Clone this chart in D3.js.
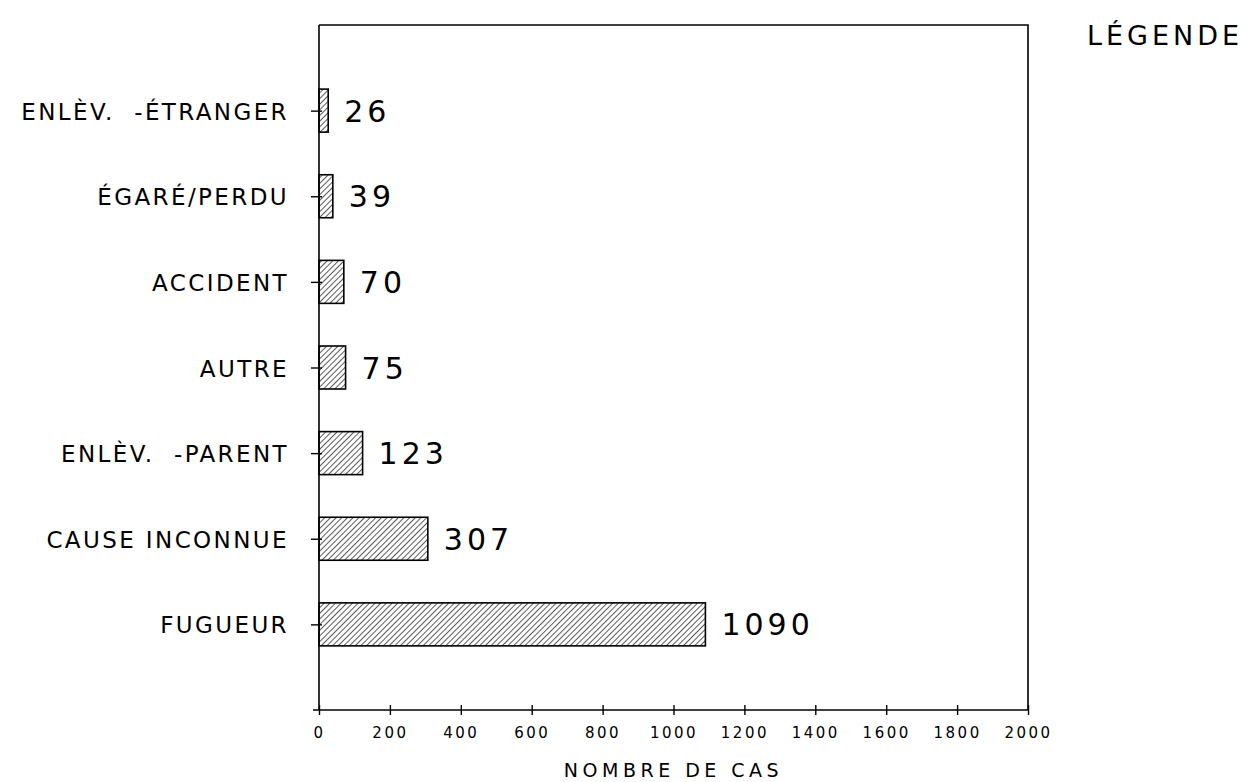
<!DOCTYPE html>
<html>
<head>
<meta charset="utf-8">
<script src="https://cdn.jsdelivr.net/npm/d3@7"></script>
<style>
  body { margin: 0; background: #fff; }
  text { font-family: "DejaVu Sans", sans-serif; fill: #000; white-space: pre; }
</style>
</head>
<body>
<div class="chart"></div>
<script>
// categories, top to bottom
var categories = ["ENLÈV.  -ÉTRANGER", "ÉGARÉ/PERDU", "ACCIDENT", "AUTRE", "ENLÈV.  -PARENT", "CAUSE INCONNUE", "FUGUEUR"];
var values = [26, 39, 70, 75, 123, 307, 1090];
var xTicks = [0, 200, 400, 600, 800, 1000, 1200, 1400, 1600, 1800, 2000];
var xTitle = "NOMBRE DE CAS";
var legendTitle = "LÉGENDE";

var width = 1251, height = 782;
var margin = { left: 319, top: 25, right: 223, bottom: 72 };
var plotW = width - margin.left - margin.right;
var plotH = height - margin.top - margin.bottom;

var svg = d3.select(".chart")
    .append("svg")
    .attr("width", width)
    .attr("height", height);

// hatch pattern for the bars
var defs = svg.append("defs");
defs.append("pattern")
    .attr("id", "hatch")
    .attr("patternUnits", "userSpaceOnUse")
    .attr("width", 4)
    .attr("height", 4)
    .attr("patternTransform", "rotate(45)")
    .append("line")
    .attr("x1", 0).attr("y1", 0)
    .attr("x2", 0).attr("y2", 4)
    .attr("stroke", "#000")
    .attr("stroke-width", 1.3);

var g = svg.append("g")
    .attr("transform", "translate(" + margin.left + "," + margin.top + ")");

var x = d3.scaleLinear()
    .domain([0, 2000])
    .range([0, plotW]);

var y = d3.scalePoint()
    .domain(categories)
    .range([0, plotH])
    .padding(1);

var barH = 43;

// frame (top + right)
g.append("path")
    .attr("d", "M0,0H" + plotW + "V" + plotH)
    .attr("fill", "none")
    .attr("stroke", "#000")
    .attr("stroke-width", 1.6);

// bars
g.selectAll(".bar")
    .data(values)
    .enter()
    .append("rect")
    .attr("class", "bar")
    .attr("x", 0)
    .attr("y", function (d, i) { return y(categories[i]) - barH / 2; })
    .attr("width", function (d) { return x(d); })
    .attr("height", barH)
    .attr("fill", "url(#hatch)")
    .attr("stroke", "#000")
    .attr("stroke-width", 1.6);

// value labels
g.selectAll(".val")
    .data(values)
    .enter()
    .append("text")
    .attr("class", "val")
    .attr("x", function (d) { return x(d) + 16; })
    .attr("y", function (d, i) { return y(categories[i]) + 11; })
    .style("font-size", "30px")
    .style("letter-spacing", "4px")
    .text(function (d) { return d; });

// y axis
var yAxis = d3.axisLeft(y).tickSize(8).tickPadding(22);
var ya = g.append("g").attr("class", "y_axis").call(yAxis);
ya.select(".domain").attr("stroke", "#000").attr("stroke-width", 1.6)
    .attr("d", "M0,0V" + plotH);
ya.selectAll(".tick line").attr("stroke", "#000").attr("stroke-width", 1.4).attr("x2", -8).attr("x1", 3);
ya.selectAll(".tick text")
    .style("font-size", "23px")
    .style("letter-spacing", "2.4px")
    .style("font-family", "DejaVu Sans")
    .attr("dy", "0.37em");

// x axis
var xAxis = d3.axisBottom(x).tickValues(xTicks).tickFormat(d3.format("d")).tickSize(5).tickPadding(12);
var xa = g.append("g").attr("class", "x_axis")
    .attr("transform", "translate(0," + plotH + ")")
    .call(xAxis);
xa.select(".domain").attr("stroke", "#000").attr("stroke-width", 1.6)
    .attr("d", "M-6,0H" + plotW);
xa.selectAll(".tick line").attr("stroke", "#000").attr("stroke-width", 1.4).attr("y1", -5).attr("y2", 5);
xa.selectAll(".tick text")
    .style("font-size", "15px")
    .style("letter-spacing", "2.5px")
    .style("font-family", "DejaVu Sans");

// x title
svg.append("text")
    .attr("x", margin.left + plotW / 2)
    .attr("y", 777)
    .style("text-anchor", "middle")
    .style("font-size", "19px")
    .style("letter-spacing", "4.5px")
    .text(xTitle);

// legend title
svg.append("text")
    .attr("x", 1087)
    .attr("y", 45)
    .style("font-size", "27px")
    .style("letter-spacing", "4px")
    .text(legendTitle);
</script>
</body>
</html>
